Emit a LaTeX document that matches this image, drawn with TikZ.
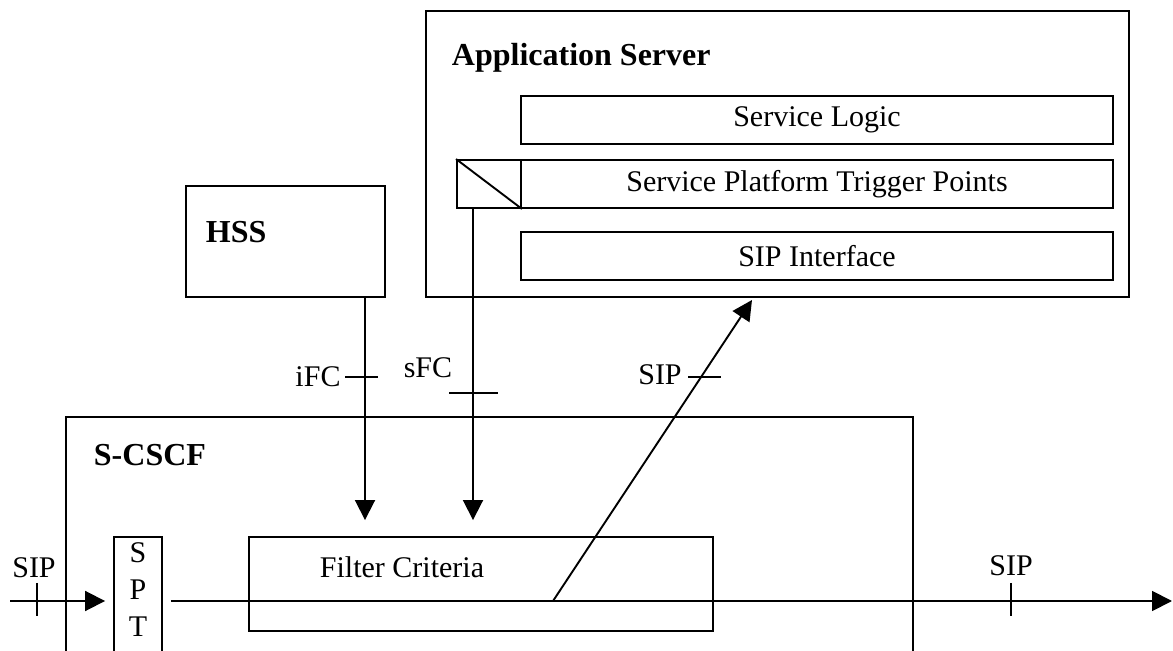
\documentclass[tikz,border=0pt]{standalone}
\usepackage{fontspec}
\setmainfont{Liberation Serif}
\usetikzlibrary{arrows.meta}
\begin{document}
\begin{tikzpicture}[x=0.5pt,y=-0.5pt,line width=0.95pt,
  font=\fontsize{15}{18}\selectfont,
  box/.style={draw,inner sep=0pt},
  title/.style={anchor=west,inner sep=0pt,font=\fontsize{16}{18}\selectfont\bfseries},
  sig/.style={-{Triangle[length=10pt,width=10pt]}}]
\clip (0,0) rectangle (1173,651);

% application server
\node[box,minimum width=351.5pt,minimum height=143pt] (as) at (777.5,154) {};
\node[title] (aslabel) at (451,58) {Application Server};
\node[box,minimum width=296pt,minimum height=24pt] (logic) at (817,120) {Service Logic};
\node[box,minimum width=296pt,minimum height=24pt] (trig) at (817,184) {Service Platform Trigger Points};
\node[box,minimum width=296pt,minimum height=24pt] (sipif) at (817,256) {SIP Interface};
\node[box,minimum width=32pt,minimum height=24pt] (tp) at (489,184) {};
\draw (tp.north west) -- (tp.south east);

% hss
\node[box,minimum width=99.5pt,minimum height=55.5pt] (hss) at (285.5,241.5) {};
\node[title] (hsslabel) at (205,232) {HSS};

%-------------------------------------
% s-cscf
\node[box,minimum width=423.5pt,minimum height=141.5pt] (scscf) at (489.5,558.5) {};
\node[title] (scscflabel) at (93,455) {S-CSCF};
\node[box,minimum width=24pt,minimum height=81.5pt] (spt) at (138,618.5) {};
\node[align=center,inner sep=0pt,font=\fontsize{15}{18.5}\selectfont] (sptlabel) at (138,590) {S\\P\\T};
\node[box,minimum width=232pt,minimum height=47pt] (fc) at (481,584) {};
\node[inner sep=0pt] (fclabel) at (402,567) {Filter Criteria};

\coordinate (ifc) at (365,297);
\coordinate (sfc) at (473,208);
\coordinate (fcsip) at (553,601);
\coordinate (assip) at (752,300);
\coordinate (sipin) at (10,601);
\coordinate (sipout) at (1172,601);

\draw[sig,shorten >=8pt] (ifc) -- (ifc |- fc.north);
\draw[sig,shorten >=8pt] (sfc) -- (sfc |- fc.north);
\draw[sig] (fcsip) -- (assip);
\draw[sig,shorten >=4pt] (sipin) -- (spt.west |- sipin);
\draw[sig,shorten <=4pt] (spt.east |- sipin) -- (sipout);

% ticks
\draw (345,377) -- (378,377);
\draw (449,393) -- (498,393);
\draw (688,377) -- (721,377);
\draw (37,583) -- (37,616);
\draw (1011,583) -- (1011,616);

\node[inner sep=0pt] (ifclabel) at (318,377) {iFC};
\node[inner sep=0pt] (sfclabel) at (428,368) {sFC};
\node[inner sep=0pt] (siplabel) at (660,375) {SIP};
\node[inner sep=0pt] (sipinlabel) at (34,568) {SIP};
\node[inner sep=0pt] (sipoutlabel) at (1011,566) {SIP};
\end{tikzpicture}
\end{document}
